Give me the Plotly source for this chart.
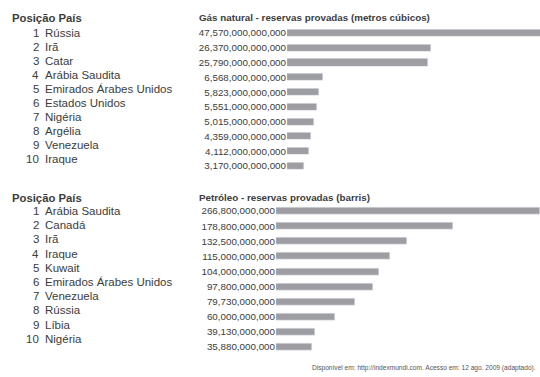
import plotly.graph_objects as go

# ---- data ----
gas_countries = ["Rússia", "Irã", "Catar", "Arábia Saudita", "Emirados Árabes Unidos",
                 "Estados Unidos", "Nigéria", "Argélia", "Venezuela", "Iraque"]
gas_values = [47570000000000, 26370000000000, 25790000000000, 6568000000000, 5823000000000,
              5551000000000, 5015000000000, 4359000000000, 4112000000000, 3170000000000]

oil_countries = ["Arábia Saudita", "Canadá", "Irã", "Iraque", "Kuwait",
                 "Emirados Árabes Unidos", "Venezuela", "Rússia", "Líbia", "Nigéria"]
oil_values = [266800000000, 178800000000, 132500000000, 115000000000, 104000000000,
              97800000000, 79730000000, 60000000000, 39130000000, 35880000000]

header_left = "Posição País"
gas_title = "Gás natural - reservas provadas (metros cúbicos)"
oil_title = "Petróleo - reservas provadas (barris)"
footer = "Disponível em: http://indexmundi.com. Acesso em: 12 ago. 2009 (adaptado)."

# ---- layout helpers ----
W, H = 540, 377
FONT = "Liberation Sans, Arial, sans-serif"
BAR = "#9e9ea2"
TXT = "#3c3c3c"


def px(x):
    return x / W


def py(y):
    return 1 - y / H


fig = go.Figure()
idx = list(range(10))
fig.add_trace(go.Bar(x=gas_values, y=idx, orientation="h", marker_color=BAR,
                     width=0.48, xaxis="x", yaxis="y", hoverinfo="skip"))
fig.add_trace(go.Bar(x=oil_values, y=idx, orientation="h", marker_color=BAR,
                     width=0.46, xaxis="x2", yaxis="y2", hoverinfo="skip"))

ycommon = dict(showgrid=False, zeroline=False, showline=False, ticks="",
               tickfont=dict(family=FONT, size=9.8, color=TXT), range=[9.5, -0.5],
               tickvals=idx, fixedrange=True)
xcommon = dict(visible=False, showgrid=False, zeroline=False, fixedrange=True)

fig.update_layout(
    width=W, height=H, margin=dict(l=0, r=0, t=0, b=0),
    paper_bgcolor="white", plot_bgcolor="white", showlegend=False,
    bargap=0,
    xaxis=dict(domain=[px(287), 1], range=[0, 46.4e12], anchor="y", **xcommon),
    yaxis=dict(domain=[py(173.4), py(25.6)], anchor="x",
               ticktext=[f"{v:,}" for v in gas_values], **ycommon),
    xaxis2=dict(domain=[px(276), 1], range=[0, 266.8e9], anchor="y2", **xcommon),
    yaxis2=dict(domain=[py(354.6), py(203.4)], anchor="x2",
                ticktext=[f"{v:,}" for v in oil_values], **ycommon),
)

ann = []


def add_text(text, x, y, size, bold=False, anchor="left", color=TXT):
    ann.append(dict(text=f"<b>{text}</b>" if bold else text, x=px(x), y=py(y),
                    xref="paper", yref="paper", xanchor=anchor, yanchor="middle",
                    showarrow=False, font=dict(family=FONT, size=size, color=color)))


for block, countries, y0, step in ((0, gas_countries, 33, 14.0), (1, oil_countries, 211, 14.2)):
    head_y = 18 if block == 0 else 198
    add_text(header_left, 10, head_y, 11.3, bold=True)
    add_text(gas_title if block == 0 else oil_title, 197, head_y, 9.8, bold=True)
    for i, c in enumerate(countries):
        y = y0 + i * step
        add_text(str(i + 1), 40.5, y, 11.5, anchor="right")
        add_text(c, 43, y, 11.5)

add_text(footer, 538, 368, 6.6, anchor="right", color="#555")

fig.update_layout(annotations=ann)
fig.write_html("out.html")
